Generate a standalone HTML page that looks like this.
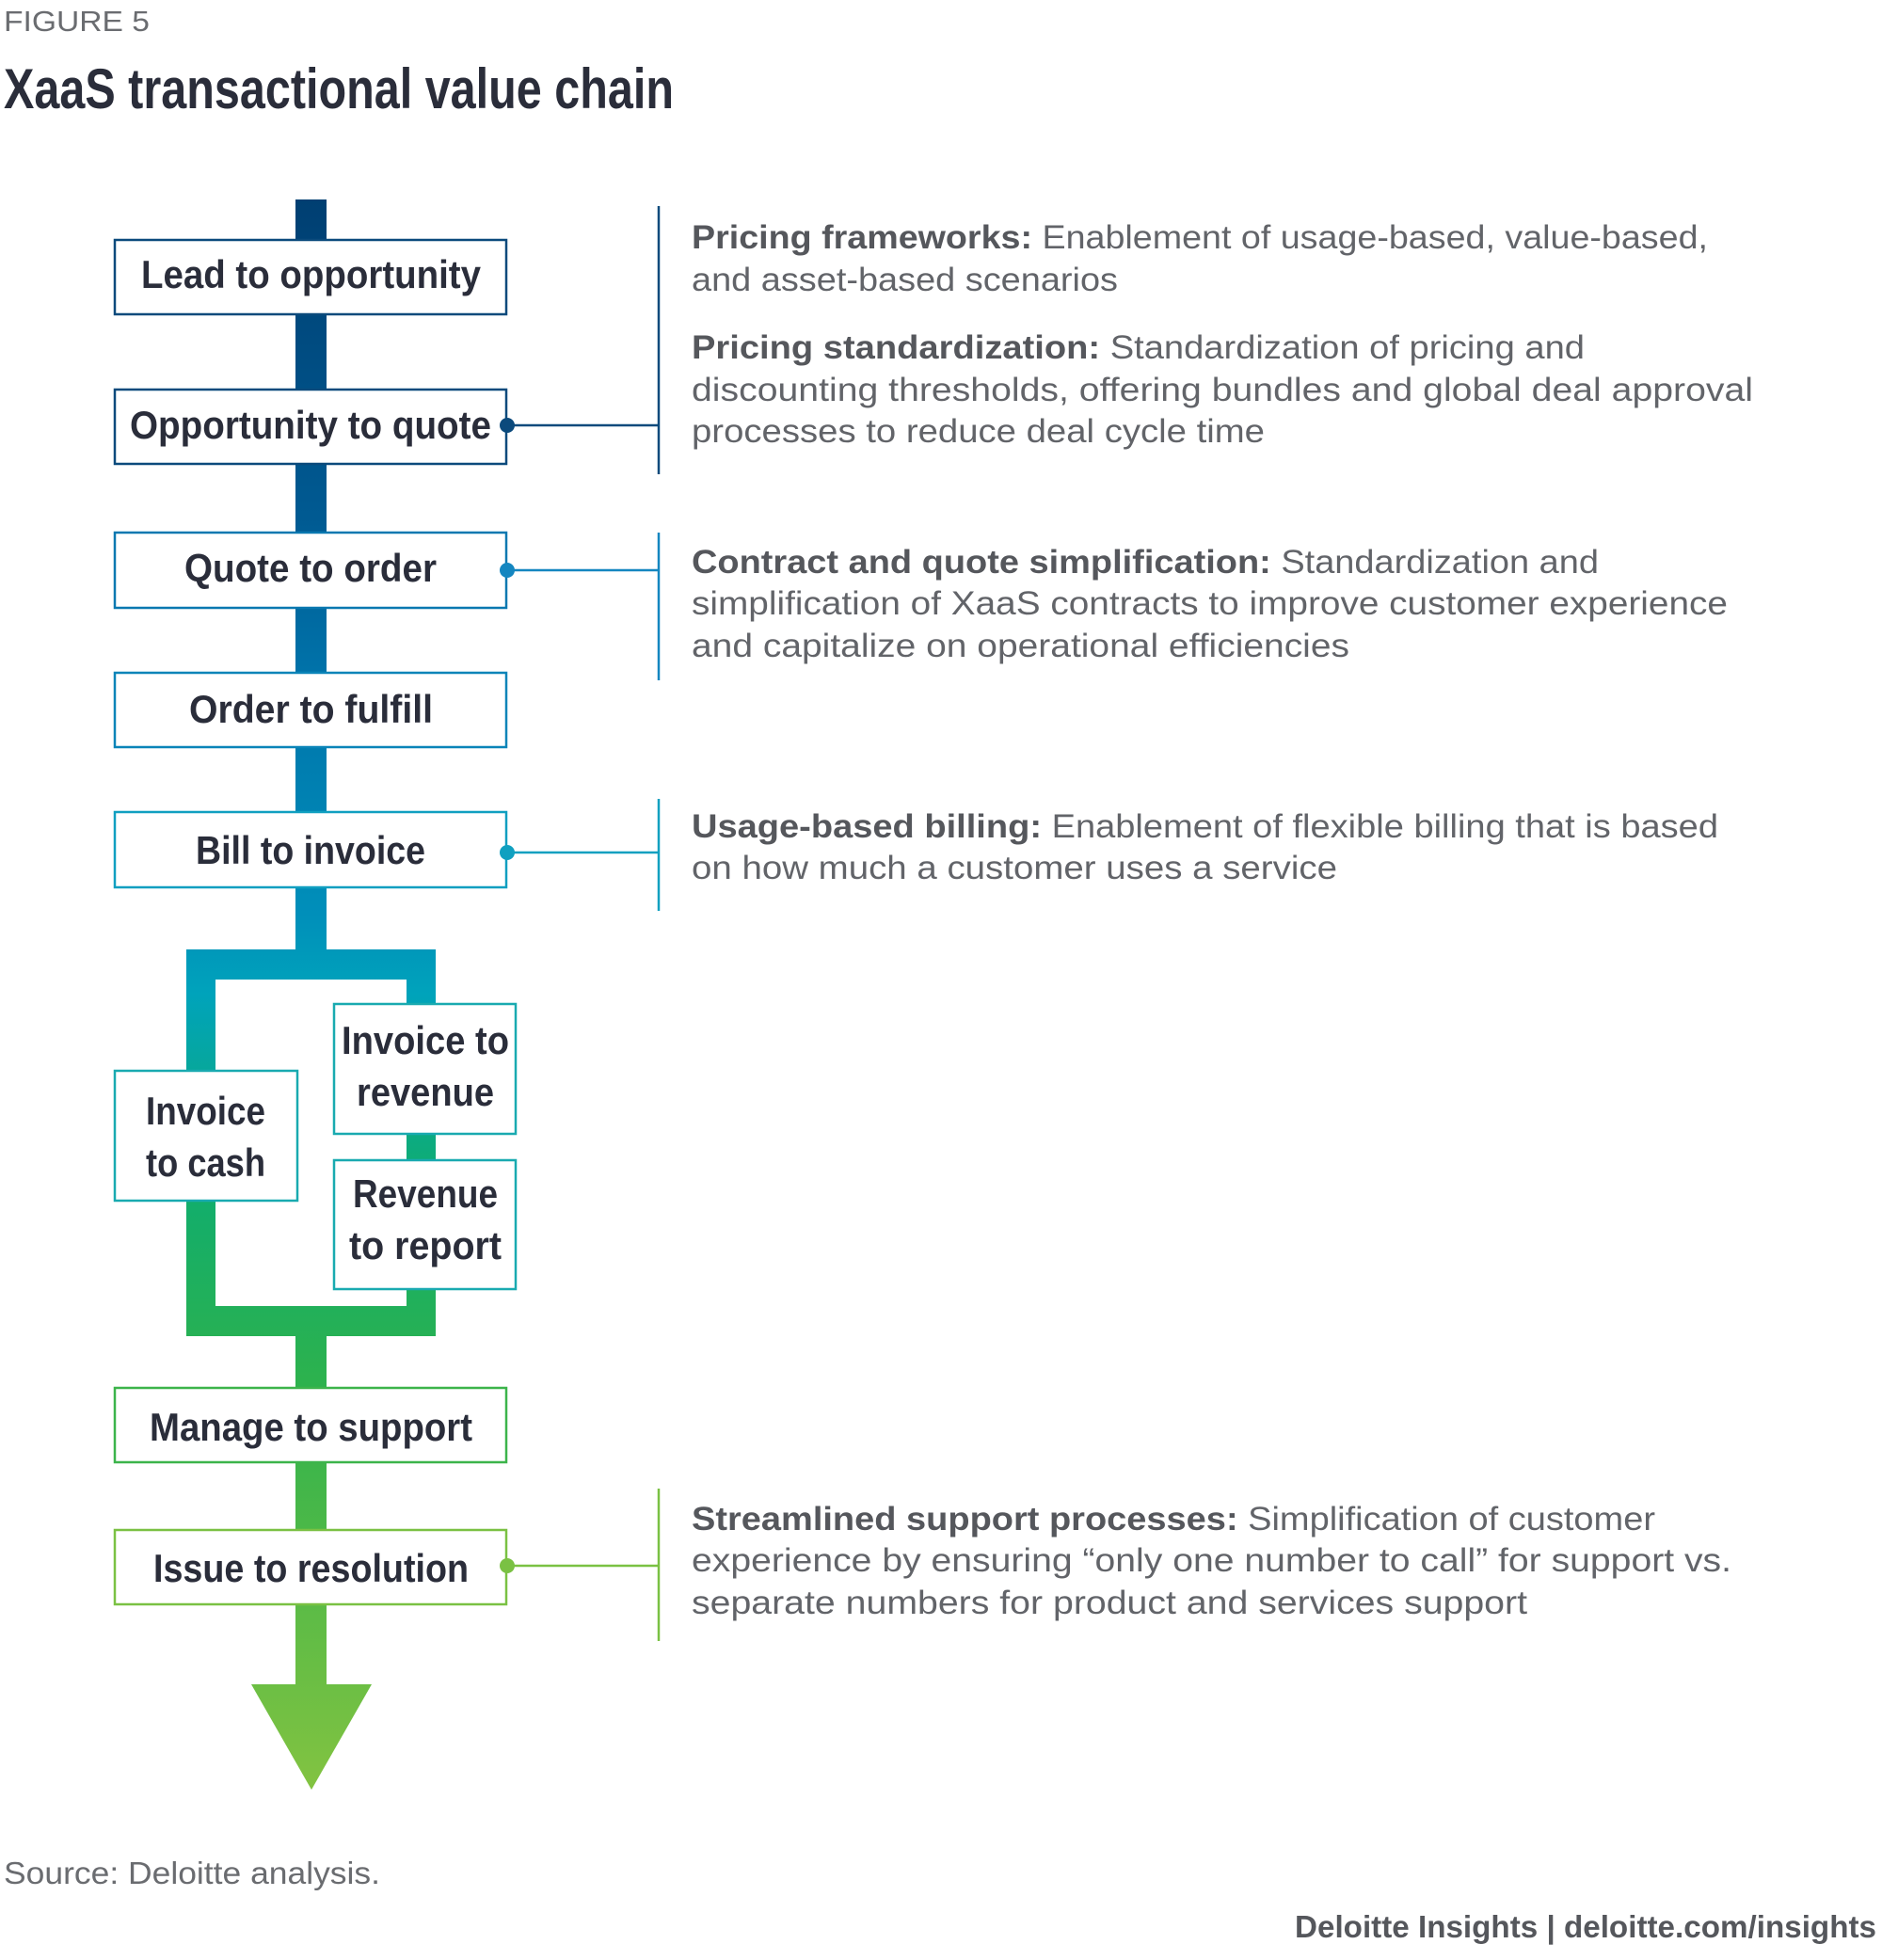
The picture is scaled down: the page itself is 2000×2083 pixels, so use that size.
<!DOCTYPE html>
<html><head><meta charset="utf-8"><style>
html,body{margin:0;padding:0;background:#fff;}
svg{display:block;}
.bx{font-family:"Liberation Sans",sans-serif;font-weight:bold;font-size:42px;fill:#2a2d3a;}
.d{font-family:"Liberation Sans",sans-serif;font-size:35px;fill:#626469;}
.d tspan.b{font-weight:bold;fill:#55575c;}
</style></head><body>
<svg width="2000" height="2083" viewBox="0 0 2000 2083" xmlns="http://www.w3.org/2000/svg">
<defs>
<linearGradient id="g" gradientUnits="userSpaceOnUse" x1="0" y1="212" x2="0" y2="1900">
<stop offset="0" stop-color="#003f72"/>
<stop offset="0.2" stop-color="#005a92"/>
<stop offset="0.3" stop-color="#0073aa"/>
<stop offset="0.45" stop-color="#008fba"/>
<stop offset="0.5" stop-color="#00a3bb"/>
<stop offset="0.62" stop-color="#10ad6e"/>
<stop offset="0.75" stop-color="#2eb24c"/>
<stop offset="1" stop-color="#82c341"/>
</linearGradient>
</defs>
<text x="4" y="33" font-family="Liberation Sans,sans-serif" font-size="31" fill="#6a6c70" textLength="155" lengthAdjust="spacingAndGlyphs">FIGURE 5</text>
<text x="4" y="115" font-family="Liberation Sans,sans-serif" font-weight="bold" font-size="60" fill="#2a2d3a" textLength="712" lengthAdjust="spacingAndGlyphs">XaaS transactional value chain</text>

<g fill="url(#g)">
<rect x="314" y="212" width="33" height="800"/>
<rect x="198" y="1009" width="265" height="32"/>
<rect x="198" y="1009" width="31" height="411"/>
<rect x="432" y="1009" width="31" height="411"/>
<rect x="198" y="1388" width="265" height="32"/>
<rect x="314" y="1388" width="33" height="404"/>
<polygon points="267,1790 395,1790 331,1902"/>
</g>

<g stroke-width="2.5" fill="#fff">
<rect x="122" y="255" width="416" height="79" stroke="#0b4a7c"/>
<rect x="122" y="414" width="416" height="79" stroke="#0b4a7c"/>
<rect x="122" y="566" width="416" height="80" stroke="#0a78b0"/>
<rect x="122" y="715" width="416" height="79" stroke="#0a84b8"/>
<rect x="122" y="863" width="416" height="80" stroke="#109fc0"/>
<rect x="122" y="1138" width="194" height="138" stroke="#19aab0"/>
<rect x="355" y="1067" width="193" height="138" stroke="#19aab0"/>
<rect x="355" y="1233" width="193" height="137" stroke="#19aab0"/>
<rect x="122" y="1475" width="416" height="79" stroke="#3cb44b"/>
<rect x="122" y="1626" width="416" height="79" stroke="#7ac143"/>
</g>

<text class="bx" x="150" y="306" textLength="361" lengthAdjust="spacingAndGlyphs">Lead to opportunity</text>
<text class="bx" x="138" y="466" textLength="384" lengthAdjust="spacingAndGlyphs">Opportunity to quote</text>
<text class="bx" x="196" y="618" textLength="268" lengthAdjust="spacingAndGlyphs">Quote to order</text>
<text class="bx" x="201" y="768" textLength="259" lengthAdjust="spacingAndGlyphs">Order to fulfill</text>
<text class="bx" x="208" y="918" textLength="244" lengthAdjust="spacingAndGlyphs">Bill to invoice</text>
<text class="bx" x="155" y="1195" textLength="127" lengthAdjust="spacingAndGlyphs">Invoice</text>
<text class="bx" x="155" y="1250" textLength="127" lengthAdjust="spacingAndGlyphs">to cash</text>
<text class="bx" x="363" y="1120" textLength="178" lengthAdjust="spacingAndGlyphs">Invoice to</text>
<text class="bx" x="379" y="1175" textLength="146" lengthAdjust="spacingAndGlyphs">revenue</text>
<text class="bx" x="375" y="1283" textLength="154" lengthAdjust="spacingAndGlyphs">Revenue</text>
<text class="bx" x="371" y="1338" textLength="162" lengthAdjust="spacingAndGlyphs">to report</text>
<text class="bx" x="159" y="1531" textLength="343" lengthAdjust="spacingAndGlyphs">Manage to support</text>
<text class="bx" x="163" y="1681" textLength="335" lengthAdjust="spacingAndGlyphs">Issue to resolution</text>

<g stroke-width="2.5" fill="none">
<path d="M538 452 H700 M700 219 V504" stroke="#0b4a7c"/>
<path d="M538 606 H700 M700 566 V723" stroke="#1486c0"/>
<path d="M538 906 H700 M700 849 V968" stroke="#10a0c0"/>
<path d="M538 1664 H700 M700 1582 V1744" stroke="#7ac143"/>
</g>
<circle cx="539" cy="452" r="8" fill="#0b4a7c"/>
<circle cx="539" cy="606" r="8" fill="#1486c0"/>
<circle cx="539" cy="906" r="8" fill="#10a0c0"/>
<circle cx="539" cy="1664" r="8" fill="#7ac143"/>

<text class="d" x="735" y="264" textLength="1080" lengthAdjust="spacingAndGlyphs"><tspan class="b">Pricing frameworks:</tspan> Enablement of usage-based, value-based,</text>
<text class="d" x="735" y="309" textLength="453" lengthAdjust="spacingAndGlyphs">and asset-based scenarios</text>
<text class="d" x="735" y="381" textLength="949" lengthAdjust="spacingAndGlyphs"><tspan class="b">Pricing standardization:</tspan> Standardization of pricing and</text>
<text class="d" x="735" y="426" textLength="1128" lengthAdjust="spacingAndGlyphs">discounting thresholds, offering bundles and global deal approval</text>
<text class="d" x="735" y="470" textLength="609" lengthAdjust="spacingAndGlyphs">processes to reduce deal cycle time</text>
<text class="d" x="735" y="609" textLength="964" lengthAdjust="spacingAndGlyphs"><tspan class="b">Contract and quote simplification:</tspan> Standardization and</text>
<text class="d" x="735" y="653" textLength="1101" lengthAdjust="spacingAndGlyphs">simplification of XaaS contracts to improve customer experience</text>
<text class="d" x="735" y="698" textLength="699" lengthAdjust="spacingAndGlyphs">and capitalize on operational efficiencies</text>
<text class="d" x="735" y="890" textLength="1091" lengthAdjust="spacingAndGlyphs"><tspan class="b">Usage-based billing:</tspan> Enablement of flexible billing that is based</text>
<text class="d" x="735" y="934" textLength="686" lengthAdjust="spacingAndGlyphs">on how much a customer uses a service</text>
<text class="d" x="735" y="1626" textLength="1024" lengthAdjust="spacingAndGlyphs"><tspan class="b">Streamlined support processes:</tspan> Simplification of customer</text>
<text class="d" x="735" y="1670" textLength="1105" lengthAdjust="spacingAndGlyphs">experience by ensuring “only one number to call” for support vs.</text>
<text class="d" x="735" y="1715" textLength="888" lengthAdjust="spacingAndGlyphs">separate numbers for product and services support</text>

<text x="4" y="2002" font-family="Liberation Sans,sans-serif" font-size="33" fill="#6a6c70" textLength="400" lengthAdjust="spacingAndGlyphs">Source: Deloitte analysis.</text>
<text x="1376" y="2059" font-family="Liberation Sans,sans-serif" font-weight="bold" font-size="33" fill="#55575c" textLength="618" lengthAdjust="spacingAndGlyphs">Deloitte Insights | deloitte.com/insights</text>
</svg>
</body></html>
